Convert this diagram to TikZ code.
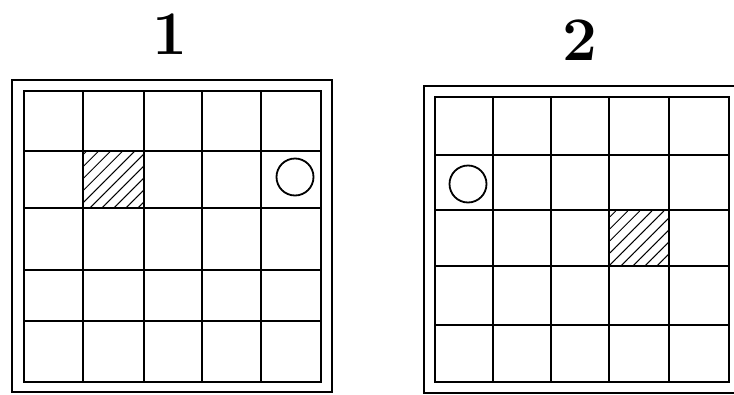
\documentclass[tikz,border=0pt]{standalone}
\usetikzlibrary{patterns.meta}
\begin{document}
\begin{tikzpicture}[
	x=1pt, y=-1pt,
	frame/.style={draw=black, line width=2pt},
	gridline/.style={draw=black, line width=1.6pt},
	hatched/.style={pattern={Lines[angle=45, distance=8.5pt, line width=1pt]}},
	token/.style={circle, draw=black, line width=1.8pt, minimum size=37pt, inner sep=0pt},
	numlabel/.style={font=\fontsize{62}{62}\selectfont\bfseries}
]
\useasboundingbox (0,0) rectangle (734,394);

% Titulos
\node[numlabel] (title1) at (170,34) {1};
\node[numlabel] (title2) at (580,40) {2};

% Tablero 1
\fill[hatched] (83,151) rectangle (144,208);
\draw[frame] (12,80) rectangle (332,392);
\draw[gridline] (24,91) rectangle (321,382);
\foreach \x in {83,144,202,261}
	\draw[gridline] (\x,91) -- (\x,382);
\foreach \y in {151,208,270,321}
	\draw[gridline] (24,\y) -- (321,\y);
\node[token] (ball1) at (295,177) {};

% Tablero 2
\fill[hatched] (609,210) rectangle (669,266);
\draw[frame] (424,86) rectangle (748,393);
\draw[gridline] (435,97) rectangle (729,382);
\foreach \x in {493,551,609,669}
	\draw[gridline] (\x,97) -- (\x,382);
\foreach \y in {155,210,266,325}
	\draw[gridline] (435,\y) -- (729,\y);
\node[token] (ball2) at (468,184) {};

\end{tikzpicture}
\end{document}
